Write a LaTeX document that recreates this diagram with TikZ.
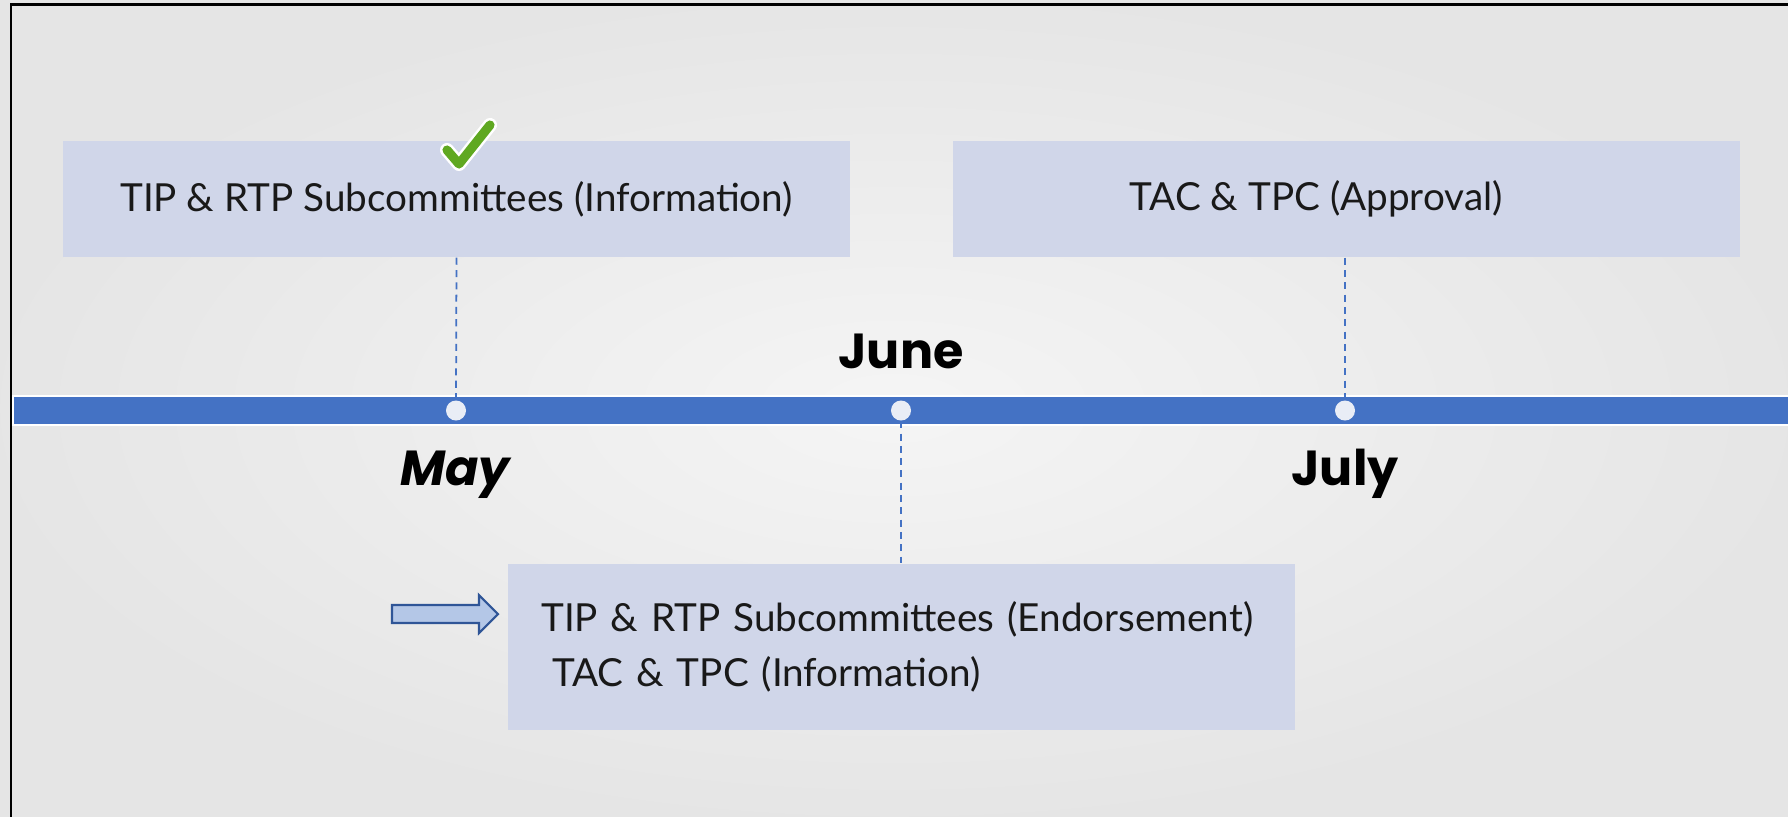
\documentclass[tikz,border=0pt]{standalone}
\usepackage{fontspec}
\setmainfont{Lato}
\newfontfamily\monthfont{Poppins}
\usetikzlibrary{positioning}
\definecolor{bandblue}{HTML}{4472C4}
\definecolor{boxfill}{HTML}{D0D6E9}
\definecolor{dotfill}{HTML}{E9EDF6}
\definecolor{checkgreen}{HTML}{5FA821}
\definecolor{arrowfill}{HTML}{B4C7E7}
\definecolor{arrowline}{HTML}{2F5597}
\begin{document}
\begin{tikzpicture}[
    box/.style={fill=boxfill, minimum width=7.87cm, minimum height=1.16cm,
        font=\fontsize{11}{15.6}\selectfont, text=black!90},
    dot/.style={circle, fill=dotfill, inner sep=0pt, minimum size=0.2cm},
    month/.style={font=\monthfont\bfseries\fontsize{14}{17}\selectfont, anchor=base},
    link/.style={bandblue, dash pattern=on 2pt off 1.5pt, line width=0.5pt}]
    \useasboundingbox (0,0) rectangle (17.88,-8.16);

    % 背景和边框
    \shade[inner color=black!4, outer color=black!10] (0,0) rectangle (17.88,-8.16);
    \draw[line width=0.85pt] (0.11,-8.4) -- (0.11,-0.04) -- (18.1,-0.04);

    % 时间轴
    \draw[white, line width=0.6pt, fill=bandblue] (0.13,-3.96) rectangle (18.1,-4.25);

    % 定义节点
    \node[box] (B1) at (4.565,-1.99) {TIP \& RTP Subcommittees (Information)};
    \node[box] (B2) at (13.46,-1.99) {TAC \& TPC (Approval)\hspace*{0.6cm}};
    \node[box, minimum height=1.66cm, text width=7.2cm, inner xsep=0.33cm,
        align=left, anchor=west] (B3) at (5.07,-6.47)
        {\mbox{TIP \& RTP Subcommittees (Endorsement)}\\
         \hspace*{0.11cm}TAC \& TPC (Information)};
    \node[dot] (D1) at (4.56,-4.105) {};
    \node[dot] (D2) at (9.01,-4.105) {};
    \node[dot] (D3) at (13.45,-4.105) {};

    % 虚线连接
    \draw[link] (B1.south) -- (D1.north);
    \draw[link] (B2.south -| D3) -- (D3.north);
    \draw[link] (D2.south) -- (B3.north -| D2);

    % 月份标注
    \node[month] (M1) at (4.55,-4.85) {\itshape May};
    \node[month] (M2) at (9.01,-3.68) {June};
    \node[month] (M3) at (13.45,-4.85) {July};

    % 对勾
    \coordinate (c1) at (4.47,-1.50);
    \coordinate (c2) at (4.59,-1.64);
    \coordinate (c3) at (4.90,-1.25);
    \draw[white, line width=4pt, line cap=round, line join=round] (c1) -- (c2) -- (c3);
    \draw[checkgreen, line width=2.6pt, line cap=round, line join=round] (c1) -- (c2) -- (c3);

    % 箭头
    \draw[arrowline, fill=arrowfill, line width=0.6pt]
        (3.92,-6.05) -- (4.79,-6.05) -- (4.79,-5.95) -- (4.98,-6.14)
        -- (4.79,-6.33) -- (4.79,-6.23) -- (3.92,-6.23) -- cycle;
\end{tikzpicture}
\end{document}
